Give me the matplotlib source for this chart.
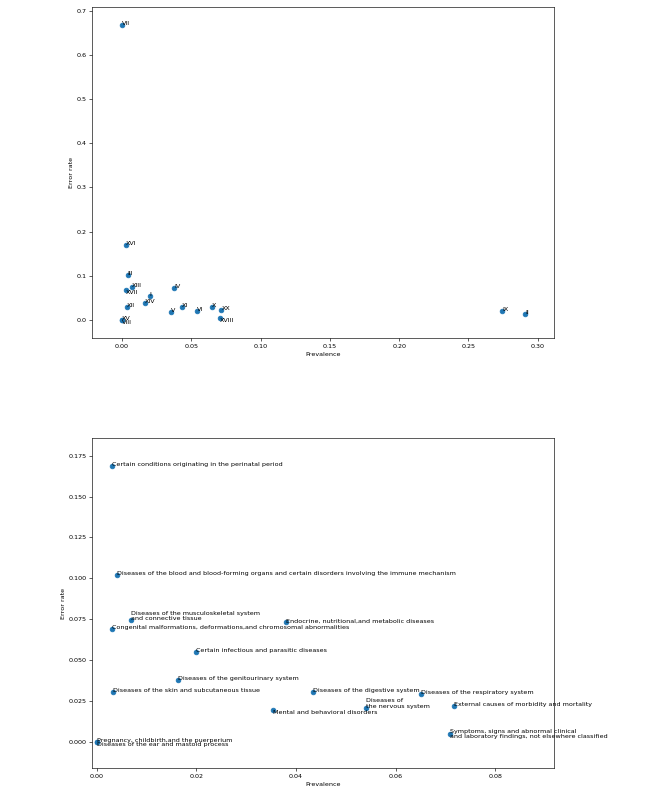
import matplotlib
matplotlib.use('Agg')
import matplotlib.pyplot as plt

# ICD-10 chapters
chapters = ['I', 'II', 'III', 'IV', 'V', 'VI', 'VII', 'VIII', 'IX', 'X',
            'XI', 'XII', 'XIII', 'XIV', 'XV', 'XVI', 'XVII', 'XVIII', 'XX']

names = ['Certain infectious and parasitic diseases',
         'Neoplasms',
         'Diseases of the blood and blood-forming organs and certain disorders involving the immune mechanism',
         'Endocrine, nutritional,and metabolic diseases',
         'Mental and behavioral disorders',
         'Diseases of\nthe nervous system',
         'Diseases of the eye and adnexa',
         'Diseases of the ear and mastoid process',
         'Diseases of the circulatory system',
         'Diseases of the respiratory system',
         'Diseases of the digestive system',
         'Diseases of the skin and subcutaneous tissue',
         'Diseases of the musculoskeletal system\nand connective tissue',
         'Diseases of the genitourinary system',
         'Pregnancy, childbirth,and the puerperium',
         'Certain conditions originating in the perinatal period',
         'Congenital malformations, deformations,and chromosomal abnormalities',
         'Symptoms, signs and abnormal clinical\nand laboratory findings, not elsewhere classified',
         'External causes of morbidity and mortality']

prevalence = [0.0199, 0.2908, 0.0041, 0.0379, 0.0353, 0.0541, 0.0002, 0.0001,
              0.2744, 0.0651, 0.0434, 0.0033, 0.0069, 0.0163, 0.0000, 0.0030,
              0.0031, 0.0708, 0.0717]

error_rate = [0.0547, 0.0129, 0.1018, 0.0730, 0.0192, 0.0208, 0.6674, 0.0000,
              0.0204, 0.0292, 0.0302, 0.0304, 0.0742, 0.0376, 0.0000, 0.1689,
              0.0687, 0.0047, 0.0220]

# labels that sit below / beside their point instead of above it
va_top = {'VIII': 'top', 'XVII': 'top', 'XVIII': 'top'}
va_bottom = {'VIII': 'top', 'V': 'top', 'XVIII': 'center'}

plt.rcParams['font.size'] = 8.2

dpi = 56
fig = plt.figure(figsize=(666 / dpi, 799 / dpi), dpi=dpi)

# overview with chapter numbers
ax1 = fig.add_axes([0.1386, 0.5766, 0.6928, 0.4150])
ax1.scatter(prevalence, error_rate)
for i, c in enumerate(chapters):
    ax1.annotate(c, (prevalence[i], error_rate[i]), va=va_top.get(c, 'baseline'))
ax1.set_xlim(-0.0214, 0.3115)
ax1.set_ylim(-0.0414, 0.709)
ax1.set_xlabel('Prevalence')
ax1.set_ylabel('Error rate')

# zoomed view with full chapter names
ax2 = fig.add_axes([0.1386, 0.0384, 0.6928, 0.4130])
ax2.scatter(prevalence, error_rate)
for i, c in enumerate(chapters):
    ax2.annotate(names[i], (prevalence[i], error_rate[i]), va=va_bottom.get(c, 'baseline'))
ax2.set_xlim(-0.00088, 0.0917)
ax2.set_ylim(-0.0163, 0.1856)
ax2.set_xlabel('Prevalence')
ax2.set_ylabel('Error rate')

fig.savefig('out.png', dpi=dpi)
